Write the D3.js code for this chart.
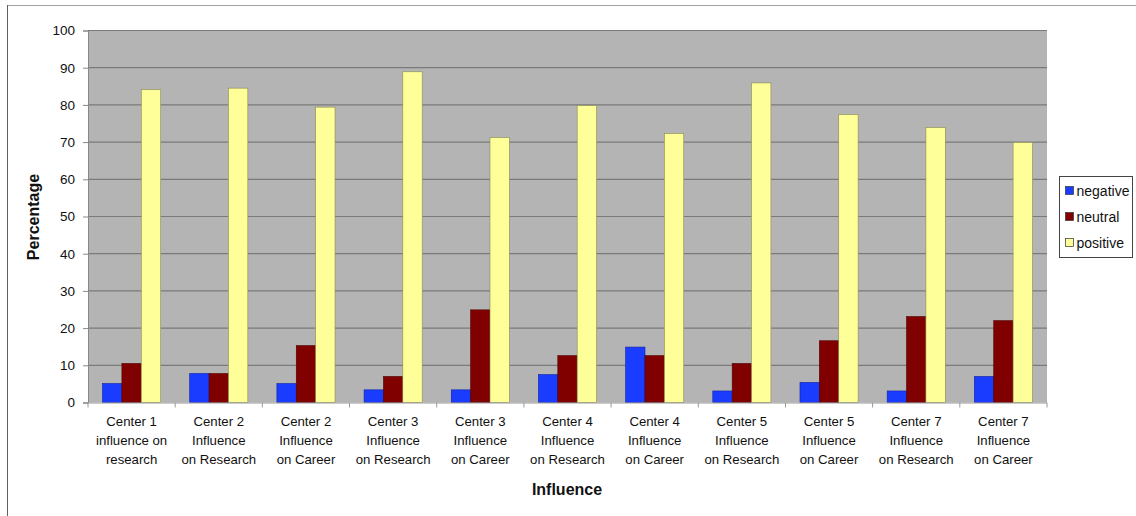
<!DOCTYPE html>
<html><head><meta charset="utf-8">
<script src="https://cdn.jsdelivr.net/npm/d3@7/dist/d3.min.js"></script>
<style>body{margin:0;background:#fff;} svg{display:block;font-family:Arial,"Liberation Sans",sans-serif;}</style>
</head><body>
<svg id="c" width="1136" height="516"></svg>
<script>
const categories = [
  ["Center 1","influence on","research"],
  ["Center 2","Influence","on Research"],
  ["Center 2","Influence","on Career"],
  ["Center 3","Influence","on Research"],
  ["Center 3","Influence","on Career"],
  ["Center 4","Influence","on Research"],
  ["Center 4","Influence","on Career"],
  ["Center 5","Influence","on Research"],
  ["Center 5","Influence","on Career"],
  ["Center 7","Influence","on Research"],
  ["Center 7","Influence","on Career"]
];
const seriesNames = ["negative","neutral","positive"];
const negative = [5.1, 7.8, 5.1, 3.4, 3.4, 7.5, 14.9, 3.1, 5.4, 3.1, 7.0];
const neutral  = [10.5, 7.8, 15.3, 7.0, 24.9, 12.6, 12.6, 10.5, 16.6, 23.1, 22.0];
const positive = [84.1, 84.5, 79.4, 88.9, 71.2, 79.8, 72.3, 85.9, 77.4, 73.9, 69.9];
const yTicks = [0,10,20,30,40,50,60,70,80,90,100];
const colors = ["#1a3cff","#800000","#ffff99"];
const strokes = ["#1020a0","#500000","#8a8a50"];

const svg = d3.select("#c");
// outer frame lines
svg.append("line").attr("x1",7).attr("x2",1136).attr("y1",5.5).attr("y2",5.5).attr("stroke","#a0a0a0").attr("stroke-width",1);
svg.append("line").attr("x1",7.5).attr("x2",7.5).attr("y1",5).attr("y2",516).attr("stroke","#606060").attr("stroke-width",1);

const L=88, R=1047, T=30.5, B=402.5;
const x = d3.scaleBand().domain(d3.range(categories.length)).range([L,R]).padding(0);
const y = d3.scaleLinear().domain([0,100]).range([B,T]);
const bw = x.bandwidth()/4.5;
const xs = d3.scaleBand().domain(seriesNames).range([0,bw*3]).padding(0);
const off = (x.bandwidth()-bw*3)/2;

svg.append("rect").attr("x",L).attr("y",T).attr("width",R-L).attr("height",B-T).attr("fill","#b4b4b4");
// gridlines
svg.append("g").selectAll("line").data(yTicks.filter(d=>d>0)).join("line")
  .attr("x1",L).attr("x2",R).attr("y1",d=>y(d)).attr("y2",d=>y(d))
  .attr("stroke","#7a7a7a").attr("stroke-width",1.2);

const data = [negative, neutral, positive];
const g = svg.append("g");
seriesNames.forEach((s,si)=>{
  g.selectAll("rect.s"+si).data(data[si]).join("rect")
    .attr("x",(d,i)=>x(i)+off+xs(s))
    .attr("y",d=>y(d))
    .attr("width",xs.bandwidth())
    .attr("height",d=>B-y(d))
    .attr("fill",colors[si]).attr("stroke",strokes[si]).attr("stroke-width",0.6);
});

// y axis
const yAxis = d3.axisLeft(y).tickValues(yTicks).tickSize(5).tickPadding(8);
const ya = svg.append("g").attr("transform",`translate(${L},0)`).call(yAxis);
ya.select(".domain").attr("stroke","#888");
ya.selectAll(".tick line").attr("stroke","#888");
ya.selectAll("text").attr("font-size","13.5px").attr("fill","#111").attr("font-family","Arial,'Liberation Sans',sans-serif");

// x axis line and tick marks at group boundaries
svg.append("line").attr("x1",L-5).attr("x2",R).attr("y1",B+0.5).attr("y2",B+0.5).attr("stroke","#999");
svg.append("g").selectAll("line").data(d3.range(categories.length+1)).join("line")
  .attr("x1",i=>L+i*x.step()).attr("x2",i=>L+i*x.step())
  .attr("y1",B).attr("y2",B+5).attr("stroke","#999");

// x labels
const xl = svg.append("g").selectAll("text").data(categories).join("text")
  .attr("text-anchor","middle").attr("font-size","13.2px").attr("fill","#111")
  .attr("x",(d,i)=>x(i)+x.bandwidth()/2).attr("y",426);
xl.selectAll("tspan").data(d=>d).join("tspan")
  .attr("x",function(){return this.parentNode.getAttribute("x");})
  .attr("dy",(d,i)=>i===0?0:19.2).text(d=>d);

// axis titles
svg.append("text").attr("x",567).attr("y",495).attr("text-anchor","middle")
  .attr("font-weight","bold").attr("font-size","16px").attr("fill","#111").text("Influence");
svg.append("text").attr("transform","translate(39,217) rotate(-90)").attr("text-anchor","middle")
  .attr("font-weight","bold").attr("font-size","16px").attr("fill","#111").text("Percentage");

// legend
const lg = svg.append("g").attr("transform","translate(1059.5,176.5)");
lg.append("rect").attr("width",73).attr("height",81).attr("fill","#fff").attr("stroke","#444").attr("stroke-width",1);
seriesNames.forEach((s,i)=>{
  const yy = 14 + i*26;
  lg.append("rect").attr("x",6).attr("y",yy-4).attr("width",8).attr("height",8)
    .attr("fill",colors[i]).attr("stroke","#333").attr("stroke-width",0.7);
  lg.append("text").attr("x",17).attr("y",yy+5).attr("font-size","14px").attr("fill","#111").text(s);
});
</script>
</body></html>
